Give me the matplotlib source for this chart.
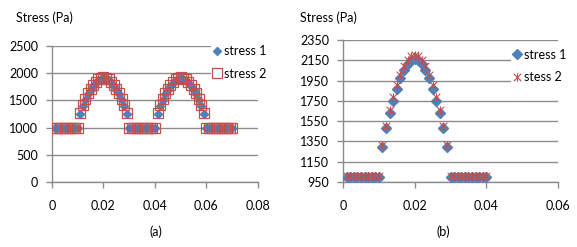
import numpy as np
import matplotlib
matplotlib.use("Agg")
import matplotlib.pyplot as plt
from matplotlib.path import Path

plt.rcParams['font.family'] = ['Lato', 'DejaVu Sans']
plt.rcParams['font.size'] = 9

# ---- data, panel (a) ----
time_a = [0.001, 0.002, 0.003, 0.004, 0.005, 0.006, 0.007, 0.008, 0.009, 0.010,
          0.011, 0.012, 0.013, 0.014, 0.015, 0.016, 0.017, 0.018, 0.019, 0.020,
          0.021, 0.022, 0.023, 0.024, 0.025, 0.026, 0.027, 0.028, 0.029,
          0.030, 0.031, 0.032, 0.033, 0.034, 0.035, 0.036, 0.037, 0.038, 0.039, 0.040,
          0.041, 0.042, 0.043, 0.044, 0.045, 0.046, 0.047, 0.048, 0.049, 0.050,
          0.051, 0.052, 0.053, 0.054, 0.055, 0.056, 0.057, 0.058, 0.059,
          0.060, 0.061, 0.062, 0.063, 0.064, 0.065, 0.066, 0.067, 0.068, 0.069, 0.070]
stress1_a = [1000, 1000, 1000, 1000, 1000, 1000, 1000, 1000, 1000, 1000,
             1250, 1390, 1510, 1610, 1690, 1765, 1825, 1870, 1895, 1905,
             1895, 1870, 1825, 1765, 1690, 1610, 1510, 1390, 1250,
             1000, 1000, 1000, 1000, 1000, 1000, 1000, 1000, 1000, 1000, 1000,
             1250, 1390, 1510, 1610, 1690, 1765, 1825, 1870, 1895, 1905,
             1895, 1870, 1825, 1765, 1690, 1610, 1510, 1390, 1250,
             1000, 1000, 1000, 1000, 1000, 1000, 1000, 1000, 1000, 1000, 1000]
stress2_a = [1000, 1000, 1000, 1000, 1000, 1000, 1000, 1000, 1000, 1000,
             1270, 1410, 1530, 1630, 1710, 1785, 1845, 1890, 1915, 1925,
             1915, 1890, 1845, 1785, 1710, 1630, 1530, 1410, 1270,
             1000, 1000, 1000, 1000, 1000, 1000, 1000, 1000, 1000, 1000, 1000,
             1270, 1410, 1530, 1630, 1710, 1785, 1845, 1890, 1915, 1925,
             1915, 1890, 1845, 1785, 1710, 1630, 1530, 1410, 1270,
             1000, 1000, 1000, 1000, 1000, 1000, 1000, 1000, 1000, 1000, 1000]

# ---- data, panel (b) ----
time_b = [0.001, 0.002, 0.003, 0.004, 0.005, 0.006, 0.007, 0.008, 0.009, 0.010,
          0.011, 0.012, 0.013, 0.014, 0.015, 0.016, 0.017, 0.018, 0.019, 0.020,
          0.021, 0.022, 0.023, 0.024, 0.025, 0.026, 0.027, 0.028, 0.029,
          0.030, 0.031, 0.032, 0.033, 0.034, 0.035, 0.036, 0.037, 0.038, 0.039, 0.040]
stress1_b = [1000, 1000, 1000, 1000, 1000, 1000, 1000, 1000, 1000, 1000,
             1300, 1480, 1630, 1750, 1870, 1980, 2050, 2110, 2150, 2160,
             2150, 2110, 2050, 1980, 1870, 1750, 1630, 1480, 1300,
             1000, 1000, 1000, 1000, 1000, 1000, 1000, 1000, 1000, 1000, 1000]
stress2_b = [1005, 1005, 1005, 1005, 1005, 1005, 1005, 1005, 1005, 1005,
             1320, 1500, 1660, 1790, 1910, 2010, 2090, 2150, 2190, 2200,
             2190, 2150, 2090, 2010, 1910, 1790, 1660, 1500, 1320,
             1005, 1005, 1005, 1005, 1005, 1005, 1005, 1005, 1005, 1005, 1005]

BLUE = '#4F81BD'
RED = '#C0504D'
GRID = '#8c8c8c'

# Excel-like star: an X with a vertical bar
star = Path([(-1, -1), (1, 1), (-1, 1), (1, -1), (0, -1.1), (0, 1.1)],
            [Path.MOVETO, Path.LINETO, Path.MOVETO, Path.LINETO, Path.MOVETO, Path.LINETO])


def style_axes(ax, ylim, yticks, xlim, xticks):
    ax.set_xlim(*xlim)
    ax.set_ylim(*ylim)
    ax.set_xticks(xticks)
    ax.set_yticks(yticks)
    ax.set_xticklabels(['0' if t == 0 else f'{t:g}' for t in xticks])
    ax.grid(axis='y', color=GRID, linewidth=1.0)
    ax.set_axisbelow(True)
    for s in ['top', 'right']:
        ax.spines[s].set_visible(False)
    for s in ['left', 'bottom']:
        ax.spines[s].set_color(GRID)
        ax.spines[s].set_linewidth(1.0)
    ax.tick_params(axis='both', color=GRID, length=4, width=1.0, labelsize=9)
    ax.tick_params(axis='x', pad=9)
    ax.tick_params(axis='y', pad=6)


fig = plt.figure(figsize=(5.77, 2.47), dpi=100)

# panel (a)
ax1 = fig.add_axes([0.0901, 0.263, 0.357, 0.551])
ax1.plot(time_a, stress1_a, linestyle='none', marker='D', markersize=4.2,
         color=BLUE, label='stress 1', zorder=3)
ax1.plot(time_a, stress2_a, linestyle='none', marker='s', markersize=7,
         markerfacecolor='none', markeredgecolor=RED, markeredgewidth=0.9,
         label='stress 2', zorder=4)
style_axes(ax1, (0, 2500), [0, 500, 1000, 1500, 2000, 2500],
           (0, 0.08), [0, 0.02, 0.04, 0.06, 0.08])
leg1 = ax1.legend(loc='upper left', bbox_to_anchor=(0.74, 1.07), frameon=True,
                  facecolor='white', edgecolor='none', framealpha=1,
                  handlelength=0.6, handletextpad=0.3, labelspacing=0.85,
                  borderpad=0.2, fontsize=9)
fig.text(0.027, 0.93, 'Stress (Pa)', fontsize=9, ha='left', va='center')
fig.text(0.27, 0.06, '(a)', fontsize=9, ha='center', va='center')

# panel (b)
ax2 = fig.add_axes([0.5945, 0.263, 0.3726, 0.575])
ax2.plot(time_b, stress1_b, linestyle='none', marker='D', markersize=5.2,
         color=BLUE, label='stress 1', zorder=3)
ax2.plot(time_b, stress2_b, linestyle='none', marker=star, markersize=6,
         markerfacecolor='none', markeredgecolor=RED, markeredgewidth=0.8,
         label='stess 2', zorder=4)
style_axes(ax2, (950, 2350), [950, 1150, 1350, 1550, 1750, 1950, 2150, 2350],
           (0, 0.06), [0, 0.02, 0.04, 0.06])
leg2 = ax2.legend(loc='upper left', bbox_to_anchor=(0.75, 1.0), frameon=True,
                  facecolor='white', edgecolor='none', framealpha=1,
                  handlelength=0.6, handletextpad=0.3, labelspacing=0.85,
                  borderpad=0.2, fontsize=9)
fig.text(0.52, 0.93, 'Stress (Pa)', fontsize=9, ha='left', va='center')
fig.text(0.768, 0.06, '(b)', fontsize=9, ha='center', va='center')

fig.savefig('out.png', dpi=100)
